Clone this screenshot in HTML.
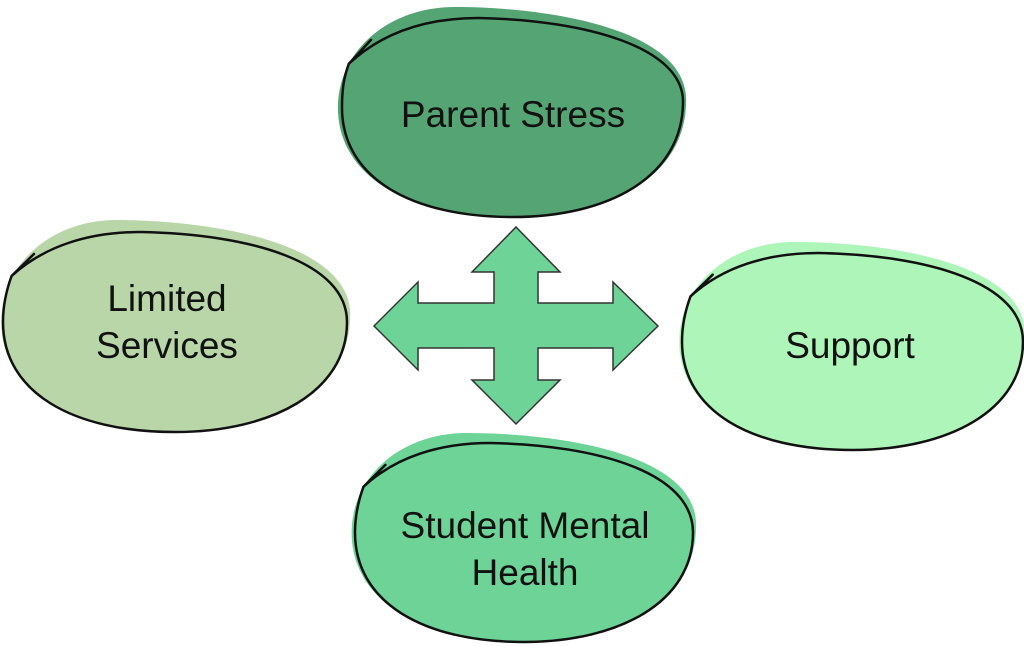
<!DOCTYPE html>
<html>
<head>
<meta charset="utf-8">
<style>
html,body{margin:0;padding:0;background:#fff;}
body{width:1024px;height:646px;overflow:hidden;}
svg{display:block;}
text{font-family:"Liberation Sans",Arial,sans-serif;font-size:37px;fill:#111;}
</style>
</head>
<body>
<svg width="1024" height="646" viewBox="0 0 1024 646" xmlns="http://www.w3.org/2000/svg">

<!-- Parent Stress -->
<g transform="translate(342,18) scale(3.41,1.99)">
<path d="M -1.2 45 C -1.2 16, 14 -5.5, 33 -5.5 C 60 -5.5, 100 5, 100.9 40 C 101.5 80, 78 100.3, 50 100.3 C 20 100.3, -1.2 80, -1.2 45 Z" fill="#55a574"/>
<path vector-effect="non-scaling-stroke" fill="none" stroke="#111" stroke-width="2.5" stroke-linecap="round" d="M 2 23 C 12 7, 25 0, 40 0 C 72 1, 100 15, 100 42 C 100 80, 78 100, 50 100 C 20 100, 0 80, 0 45 C 0 36, 0.5 30, 2 23 L 8.5 11"/>
</g>
<text x="513" y="127" text-anchor="middle">Parent Stress</text>

<!-- Limited Services -->
<g transform="translate(3,232) scale(3.44,2.00)">
<path d="M -0.5 45 C -0.5 16, 14 -6, 33 -6 C 60 -6, 100 5, 100.9 40 C 101.5 80, 78 99.5, 50 99.5 C 20 99.5, -0.5 80, -0.5 45 Z" fill="#b9d6a9"/>
<path vector-effect="non-scaling-stroke" fill="none" stroke="#111" stroke-width="2.5" stroke-linecap="round" d="M 2.5 22 C 12 7, 25 0, 40 0 C 72 1, 100 15, 100 45 C 100 80, 78 100, 50 100 C 20 100, 0 80, 0 45 C 0 36, 1 29, 2.5 22 L 9 11"/>
</g>
<text x="167" y="311" text-anchor="middle">Limited</text>
<text x="167" y="358" text-anchor="middle">Services</text>

<!-- Support -->
<g transform="translate(682,253) scale(3.41,1.97)">
<path d="M -0.8 45 C -0.8 16, 14 -5.6, 33 -5.6 C 60 -5.6, 100 5, 100.5 40 C 101 80, 78 99.5, 50 99.5 C 20 99.5, -0.8 80, -0.8 45 Z" fill="#aef5b9"/>
<path vector-effect="non-scaling-stroke" fill="none" stroke="#111" stroke-width="2.5" stroke-linecap="round" d="M 2.5 22 C 12 7, 25 0, 40 0 C 72 1, 100 15, 100 45 C 100 80, 78 100, 50 100 C 20 100, 0 80, 0 45 C 0 36, 1 29, 2.5 22 L 9 11"/>
</g>
<text x="850" y="358" text-anchor="middle">Support</text>

<!-- Student Mental Health -->
<g transform="translate(355,443) scale(3.38,1.99)">
<path d="M -1 45 C -1 16, 14 -5, 33 -5 C 60 -5, 100 5, 100.9 40 C 101.5 80, 78 99.5, 50 99.5 C 20 99.5, -1 80, -1 45 Z" fill="#6dd397"/>
<path vector-effect="non-scaling-stroke" fill="none" stroke="#111" stroke-width="2.5" stroke-linecap="round" d="M 2.5 22 C 12 7, 25 0, 40 0 C 72 1, 100 15, 100 45 C 100 80, 78 100, 50 100 C 20 100, 0 80, 0 45 C 0 36, 1 29, 2.5 22 L 9 11"/>
</g>
<text x="525" y="538" text-anchor="middle">Student Mental</text>
<text x="525" y="585" text-anchor="middle">Health</text>

<!-- Cross arrow -->
<polygon points="516,227 560,272 538,272 538,303 613,303 613,282 658,326 613,370 613,348 538,348 538,380 560,380 516,424 472,380 494,380 494,348 418,348 418,370 374,326 418,282 418,303 494,303 494,272 472,272" fill="#6dd397" stroke="#333" stroke-width="1.5" stroke-linejoin="miter"/>
</svg>
</body>
</html>
